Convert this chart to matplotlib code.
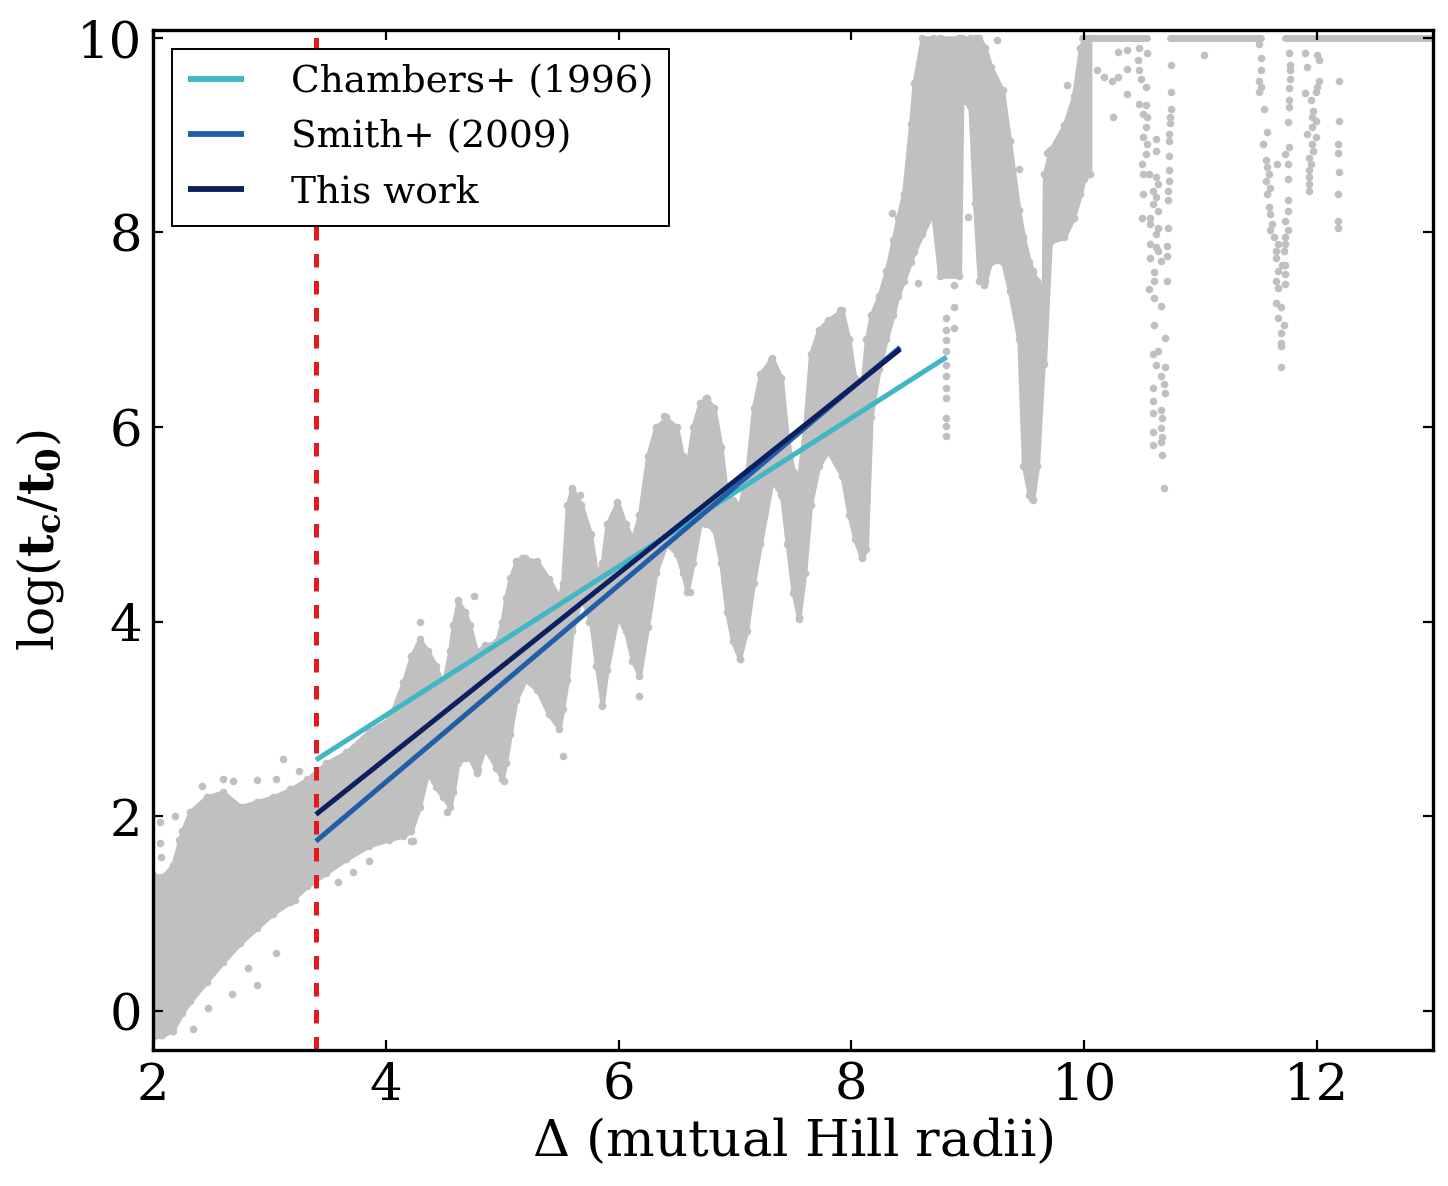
import matplotlib
matplotlib.use("Agg")
import matplotlib.pyplot as plt

# ---------------- data ----------------
# dense cloud of simulation results: x (Delta), lower edge, upper edge of log(tc/t0)
band_x = [2.00, 2.08, 2.17, 2.25, 2.32, 2.46, 2.60, 2.75, 2.89, 3.03, 3.18, 3.32, 3.49, 3.66,
          3.86, 4.03, 4.15, 4.22, 4.29, 4.36, 4.43, 4.49, 4.55, 4.58, 4.62, 4.68, 4.72, 4.78,
          4.85, 4.95, 5.00, 5.03, 5.07, 5.12, 5.20, 5.30, 5.40, 5.49, 5.52, 5.56, 5.60, 5.68,
          5.76, 5.81, 5.86, 5.90, 5.99, 6.06, 6.12, 6.18, 6.25, 6.32, 6.41, 6.50, 6.55, 6.59,
          6.64, 6.70, 6.75, 6.82, 6.88, 6.93, 6.98, 7.04, 7.10, 7.16, 7.22, 7.32, 7.40, 7.45,
          7.50, 7.55, 7.60, 7.65, 7.72, 7.80, 7.92, 7.98, 8.03, 8.09, 8.13, 8.17, 8.24, 8.30,
          8.36, 8.40, 8.45, 8.51, 8.54, 8.61, 8.70, 8.76, 8.93, 8.95, 9.02, 9.06, 9.10, 9.15,
          9.20, 9.30, 9.36, 9.44, 9.48, 9.53, 9.56, 9.60, 9.65, 9.66, 9.71, 9.83, 9.91, 9.97,
          10.00, 10.05]
band_lo = [-0.27, -0.25, -0.20, -0.02, 0.10, 0.30, 0.50, 0.70, 0.85, 1.00, 1.12, 1.28, 1.42, 1.56,
           1.70, 1.76, 1.80, 1.85, 2.10, 2.45, 2.30, 2.20, 2.10, 2.25, 2.55, 2.60, 2.60, 2.45,
           2.70, 2.50, 2.38, 2.55, 2.85, 3.20, 3.40, 3.30, 3.05, 2.90, 3.10, 3.40, 3.90, 4.25,
           4.00, 3.55, 3.14, 3.50, 4.05, 3.90, 3.60, 3.44, 3.95, 4.50, 4.80, 4.70, 4.50, 4.31,
           4.60, 5.00, 5.00, 4.95, 4.60, 4.10, 3.80, 3.62, 3.90, 4.40, 4.80, 5.45, 5.30, 4.80,
           4.30, 4.03, 4.50, 5.20, 5.60, 5.75, 5.50, 5.10, 4.85, 4.65, 4.75, 6.10, 6.60, 6.90,
           7.15, 7.35, 7.50, 7.70, 7.80, 7.98, 8.20, 7.55, 7.55, 9.36, 9.30, 8.30, 7.50, 7.50,
           7.70, 7.70, 7.40, 6.90, 5.60, 5.30, 5.25, 5.60, 6.65, 6.65, 7.90, 7.95, 8.15, 8.40,
           8.55, 8.60]
band_hi = [1.40, 1.38, 1.50, 1.85, 2.05, 2.20, 2.25, 2.10, 2.15, 2.20, 2.28, 2.38, 2.55, 2.66,
           2.88, 3.00, 3.38, 3.65, 3.82, 3.70, 3.55, 3.34, 3.70, 3.97, 4.21, 4.10, 3.97, 3.69,
           3.76, 3.79, 4.00, 4.24, 4.45, 4.62, 4.65, 4.62, 4.44, 4.25, 4.40, 5.20, 5.37, 5.20,
           4.90, 4.50, 4.60, 5.00, 5.23, 5.00, 4.85, 5.10, 5.70, 6.00, 6.09, 6.00, 5.70, 5.60,
           6.00, 6.25, 6.30, 6.20, 5.80, 5.30, 5.25, 5.20, 5.50, 6.20, 6.55, 6.71, 6.50, 5.90,
           5.55, 5.50, 6.00, 6.75, 7.00, 7.10, 7.20, 6.90, 6.50, 6.40, 6.90, 7.15, 7.35, 7.60,
           7.92, 8.15, 8.40, 9.11, 9.54, 10.00, 10.00, 10.00, 10.00, 10.00, 10.00, 10.00, 10.00, 9.90,
           9.70, 9.46, 8.94, 8.23, 7.95, 7.70, 7.60, 7.50, 7.40, 8.60, 8.85, 9.10, 9.40, 9.90,
           10.00, 10.00]

# isolated points around the main cloud
stray_x = [2.06, 2.06, 2.07, 2.42, 2.60, 2.69, 2.89, 3.06, 3.12, 3.25, 2.19, 2.22, 3.59, 3.72,
           3.22, 3.06, 2.89, 2.82, 2.68, 2.47, 2.34, 2.06, 4.44, 4.22, 4.09, 3.86, 5.52, 6.18,
           5.86, 4.29, 4.76, 5.60, 5.67, 5.99, 4.23, 4.53, 5.02, 4.79, 6.61, 7.04, 7.55, 8.09,
           7.31, 7.90, 6.39, 6.76, 7.73, 4.62, 5.17, 5.75, 6.41,
           8.35, 8.57, 9.00, 9.14, 9.14, 9.14, 9.14, 9.44, 9.53, 9.55, 9.55, 9.55, 9.68, 9.85, 9.25,
           8.81, 8.81, 8.81, 8.81, 8.81, 8.81, 8.81, 8.81, 8.81, 8.81, 8.81, 8.88, 8.88, 8.88]
stray_y = [1.94, 1.73, 1.58, 2.31, 2.38, 2.36, 2.37, 2.38, 2.59, 2.47, 2.00, 1.76, 1.33, 1.43,
           1.14, 0.60, 0.27, 0.44, 0.17, 0.03, -0.18, -0.25, 2.36, 1.75, 1.81, 1.54, 2.62, 3.24,
           3.13, 4.00, 4.26, 5.35, 5.30, 5.22, 1.75, 2.04, 2.36, 2.48, 4.31, 3.62, 4.05, 4.67,
           6.69, 7.20, 6.11, 6.30, 6.97, 4.22, 4.66, 4.00, 6.10,
           8.20, 7.48, 8.16, 7.80, 7.67, 7.53, 7.46, 8.65, 7.56, 5.50, 5.36, 5.26, 8.82, 9.51, 9.98,
           7.12, 7.00, 6.89, 6.78, 6.64, 6.53, 6.40, 6.30, 6.09, 6.01, 5.91, 7.46, 7.23, 7.02]

# sparse columns beyond Delta = 10
col_x = [10.47, 10.46, 10.47, 10.49, 10.53, 10.54, 10.47, 10.53, 10.51, 10.54, 10.53, 10.51,
         10.54, 10.53, 10.50, 10.51, 10.56, 10.62, 10.64, 10.59, 10.51, 10.62, 10.59, 10.64,
         10.57, 10.50, 10.57, 10.64, 10.62, 10.57, 10.62, 10.64, 10.57, 10.66, 10.60, 10.60,
         10.56, 10.60, 10.66, 10.60, 10.64, 10.59, 10.62, 10.70, 10.66, 10.69, 10.59, 10.70,
         10.59, 10.66, 10.59, 10.67, 10.66, 10.59, 10.67, 10.59, 10.66, 10.67, 10.69, 10.62, 10.62,
         10.75, 10.75, 10.75, 10.74, 10.74, 10.73, 10.73, 10.73, 10.73, 10.73, 10.72, 10.72,
         10.72, 10.71, 10.71, 10.71, 10.70,
         10.29, 10.37, 10.11, 10.17, 10.24, 10.29, 10.37, 10.37, 10.25, 11.03,
         11.50, 11.52, 11.52, 11.50, 11.52, 11.50, 11.55, 11.57, 11.54, 11.56, 11.57, 11.59,
         11.56, 11.60, 11.57, 11.59, 11.60, 11.62, 11.60, 11.63, 11.67, 11.65, 11.65, 11.70,
         11.67, 11.65, 11.73, 11.67, 11.65, 11.69, 11.67, 11.72, 11.69, 11.69, 11.69, 11.69,
         11.66, 11.73, 11.76, 11.75, 11.75, 11.75, 11.75, 11.73, 11.75, 11.73, 11.73, 11.72,
         11.73, 11.73,
         11.76, 11.77, 11.77, 11.77, 11.76, 11.76, 11.76, 11.75,
         11.90, 11.92, 12.00, 12.02, 12.02, 12.00, 11.99, 11.90, 11.95, 11.97, 11.96, 11.99,
         11.96, 11.92, 11.99, 11.96, 11.97, 11.93, 11.95, 11.93, 11.93, 11.93, 11.93,
         12.19, 12.19, 12.18, 12.18, 12.19, 12.18, 12.18, 12.18]
col_y = [9.89, 9.77, 9.67, 9.58, 9.49, 9.84, 9.32, 9.31, 9.22, 9.19, 9.08, 8.98,
         8.91, 8.81, 8.70, 8.60, 8.60, 8.57, 8.50, 8.43, 8.39, 8.36, 8.29, 8.22,
         8.15, 8.15, 8.09, 8.05, 7.98, 7.88, 7.85, 7.81, 7.74, 7.71, 7.59, 7.50,
         7.42, 7.33, 7.24, 7.05, 6.78, 6.75, 6.64, 6.62, 6.52, 6.44, 6.40, 6.35,
         6.27, 6.18, 6.14, 6.09, 5.99, 5.95, 5.90, 5.82, 5.85, 5.71, 5.37, 8.96, 8.84,
         9.72, 9.44, 9.27, 9.19, 9.12, 9.01, 8.94, 8.79, 8.64, 8.53, 8.43, 8.33,
         8.05, 7.86, 7.76, 7.50, 6.92,
         9.85, 9.87, 9.67, 9.60, 9.56, 9.60, 9.68, 9.42, 9.19, 9.82,
         9.94, 9.79, 9.67, 9.56, 9.49, 9.44, 9.27, 9.03, 8.91, 8.74, 8.67, 8.60,
         8.53, 8.46, 8.39, 8.26, 8.19, 8.09, 8.02, 7.95, 7.88, 7.81, 7.74, 7.67,
         7.60, 7.50, 7.47, 7.43, 7.28, 7.23, 7.12, 7.05, 6.97, 6.86, 6.83, 6.62,
         8.70, 8.81, 8.88, 8.70, 8.55, 8.33, 8.22, 8.12, 8.02, 7.95, 7.88, 7.81,
         7.67, 7.57,
         9.84, 9.72, 9.67, 9.58, 9.48, 9.36, 9.29, 9.13,
         9.84, 9.70, 9.82, 9.77, 9.56, 9.49, 9.44, 9.43, 9.36, 9.25, 9.19, 9.15,
         9.08, 9.01, 8.98, 8.91, 8.84, 8.77, 8.70, 8.64, 8.57, 8.50, 8.43,
         9.56, 9.14, 8.91, 8.82, 8.62, 8.39, 8.12, 8.05]

# runs that reached the integration limit (log t = 10)
row_y = 10.0
row_start = [9.98, 10.74, 11.73]
row_end = [10.54, 11.52, 13.0]

# fitted relations
fit_labels = ["Chambers+ (1996)", "Smith+ (2009)", "This work"]
fit_x0 = [3.40, 3.40, 3.40]
fit_x1 = [8.82, 8.42, 8.42]
fit_y0 = [2.58, 1.745, 2.02]
fit_y1 = [6.72, 6.82, 6.80]
fit_colors = ["#41b6c4", "#225ea8", "#0c1f5e"]

delta_crit = 3.4

# ---------------- plot ----------------
plt.rcParams["font.family"] = ["DejaVu Serif"]
plt.rcParams["mathtext.fontset"] = "dejavuserif"

fig = plt.figure(figsize=(14.48, 11.86), dpi=100)
ax = fig.add_axes([0.1057, 0.1147, 0.8840, 0.8600])

gray = "#c0c0c0"
dot = 30
ax.fill_between(band_x, band_lo, band_hi, color=gray, lw=3.0, edgecolor=gray,
                joinstyle="round", zorder=1)
ax.scatter(band_x, band_lo, s=dot, color=gray, lw=0, zorder=1)
ax.scatter(band_x, band_hi, s=dot, color=gray, lw=0, zorder=1)
ax.scatter(stray_x, stray_y, s=dot, color=gray, lw=0, zorder=1)
ax.scatter(col_x, col_y, s=dot, color=gray, lw=0, zorder=1)
ax.hlines([row_y] * len(row_start), row_start, row_end, color=gray, lw=5.0,
          capstyle="round", zorder=1)

ax.axvline(delta_crit, color="#e31a1c", lw=3.6, linestyle=(0, (2.7, 2.7)), zorder=2)

for lab, x0, x1, y0, y1, c in zip(fit_labels, fit_x0, fit_x1, fit_y0, fit_y1, fit_colors):
    ax.plot([x0, x1], [y0, y1], color=c, lw=3.6, label=lab, zorder=3,
            solid_capstyle="butt")

ax.set_xlim(2, 13)
ax.set_ylim(-0.40, 10.08)
ax.set_xticks([2, 4, 6, 8, 10, 12])
ax.set_yticks([0, 2, 4, 6, 8, 10])

ax.tick_params(direction="in", top=True, right=True, length=7.5, width=1.6,
               labelsize=37, pad=8)
for sp in ax.spines.values():
    sp.set_linewidth(2.4)

ax.set_xlabel(r"$\Delta$ (mutual Hill radii)", fontsize=37, labelpad=4)
ax.set_ylabel(r"$\log(\mathbf{t_c}/\mathbf{t_0})$", fontsize=35)
ax.yaxis.set_label_coords(-0.068, 0.5)

leg = ax.legend(loc="upper left", fontsize=27, frameon=True, fancybox=False,
                handlelength=1.5, handletextpad=1.25, labelspacing=0.5,
                borderpad=0.42, borderaxespad=0.5, framealpha=1)
leg.get_frame().set_edgecolor("black")
leg.get_frame().set_linewidth(1.4)
for ln in leg.get_lines():
    ln.set_linewidth(4.2)
leg.set_zorder(5)

fig.savefig("out.png", dpi=100)
